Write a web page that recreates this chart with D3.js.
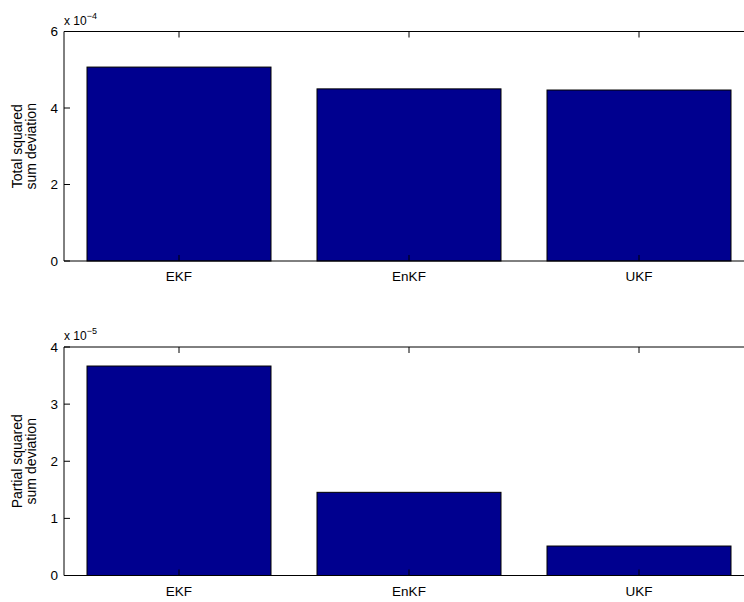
<!DOCTYPE html>
<html><head><meta charset="utf-8">
<script src="https://cdn.jsdelivr.net/npm/d3@7"></script>
<style>body{margin:0;background:#fff}svg{display:block}text{font-family:"Liberation Sans",Arial,sans-serif;fill:#000}</style>
</head><body>
<svg id="c" width="744" height="602"></svg>
<script>
const categories = ["EKF", "EnKF", "UKF"];
const totalValues = [5.07e-4, 4.50e-4, 4.47e-4];
const partialValues = [3.667e-5, 1.456e-5, 0.516e-5];
const totalTicks = [0, 2e-4, 4e-4, 6e-4];
const partialTicks = [0, 1e-5, 2e-5, 3e-5, 4e-5];

const svg = d3.select("#c");
const W = 744;

function panel(cfg) {
  const g = svg.append("g");
  const x = d3.scaleLinear().domain([0.5, 3.5]).range([64, 754]);
  const y = d3.scaleLinear().domain([0, cfg.max]).range([cfg.bottom, cfg.top]);
  const bw = (x(2) - x(1)) * 0.8;
  g.selectAll("rect.bar").data(cfg.values).enter().append("rect")
    .attr("x", (d, i) => x(i + 1) - bw / 2)
    .attr("y", d => y(d))
    .attr("width", bw)
    .attr("height", d => y(0) - y(d))
    .attr("fill", "#00008F")
    .attr("stroke", "#000").attr("stroke-width", 1);
  g.append("line").attr("x1", 64).attr("x2", W).attr("y1", cfg.top).attr("y2", cfg.top).attr("stroke", "#000");
  g.append("line").attr("x1", 64).attr("x2", W).attr("y1", cfg.bottom).attr("y2", cfg.bottom).attr("stroke", "#000");
  g.append("line").attr("x1", 64).attr("x2", 64).attr("y1", cfg.top).attr("y2", cfg.bottom).attr("stroke", "#000");
  const sc = cfg.scale;
  cfg.ticks.forEach(t => {
    g.append("line").attr("x1", 64).attr("x2", 70).attr("y1", y(t)).attr("y2", y(t)).attr("stroke", "#000");
    g.append("text").attr("x", 58).attr("y", y(t)).attr("dy", "0.36em")
      .attr("text-anchor", "end").attr("font-size", 13.5).text(d3.format("d")(Math.round(t / sc)));
  });
  categories.forEach((c, i) => {
    const xx = x(i + 1);
    g.append("line").attr("x1", xx).attr("x2", xx).attr("y1", cfg.bottom).attr("y2", cfg.bottom - 6).attr("stroke", "#000");
    g.append("line").attr("x1", xx).attr("x2", xx).attr("y1", cfg.top).attr("y2", cfg.top + 6).attr("stroke", "#000");
    g.append("text").attr("x", xx).attr("y", cfg.bottom + 20).attr("text-anchor", "middle")
      .attr("font-size", 13.5).text(c);
  });
  const ex = g.append("text").attr("x", 64).attr("y", cfg.top - 7).attr("font-size", 12);
  ex.append("tspan").text("x 10");
  ex.append("tspan").attr("dy", -6).attr("font-size", 9).text(cfg.exp);
  const cy = (cfg.top + cfg.bottom) / 2;
  const yl = g.append("text").attr("transform", `translate(22,${cy}) rotate(-90)`)
    .attr("text-anchor", "middle").attr("font-size", 14);
  yl.append("tspan").attr("x", 0).attr("dy", 0).text(cfg.label[0]);
  yl.append("tspan").attr("x", 0).attr("dy", 14).text(cfg.label[1]);
}

panel({values: totalValues, max: 6e-4, ticks: totalTicks, scale: 1e-4, exp: "\u22124",
  top: 31.5, bottom: 261, label: ["Total squared", "sum deviation"]});
panel({values: partialValues, max: 4e-5, ticks: partialTicks, scale: 1e-5, exp: "\u22125",
  top: 347, bottom: 575.5, label: ["Partial squared", "sum deviation"]});
</script>
</body></html>
